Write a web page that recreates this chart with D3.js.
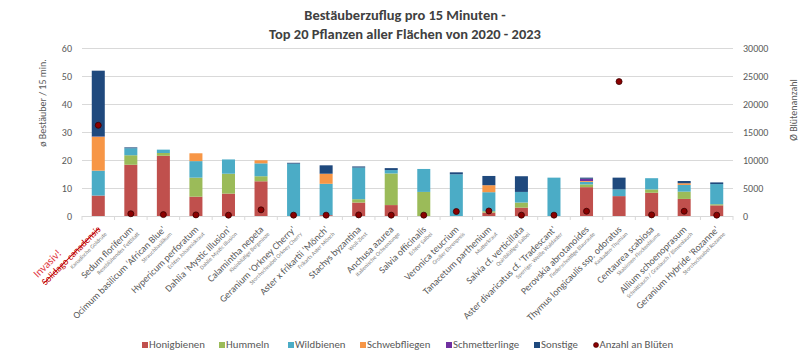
<!DOCTYPE html>
<html><head><meta charset="utf-8">
<script src="https://cdn.jsdelivr.net/npm/d3@7"></script>
<style>
body{margin:0;background:#fff;}
svg{display:block;font-family:Carlito,Lato,"Open Sans",sans-serif;}
</style></head>
<body><svg id="c" width="809" height="363"></svg>
<script>
const plants = ["Solidago canadensis","Sedum floriferum","Ocimum basilicum ‘African Blue’","Hypericum perforatum","Dahlia ‘Mystic Illusion’","Calamintha nepeta","Geranium ‘Orkney Cherry’","Aster x frikartii ‘Mönch’","Stachys byzantina","Anchusa azurea","Salvia officinalis","Veronica teucrium","Tanacetum parthenium","Salvia cf. verticillata","Aster divaricatus cf. ‘Tradescant’","Perovskia abrotanoides","Thymus longicaulis ssp. odoratus","Centaurea scabiosa","Allium schoenoprasum","Geranium Hybride ‘Rozanne’"];
const germanNames = ["Kanadische Goldrute","Reseblühendes Fettblatt","Strauchbasilikum","Echtes Johanniskraut","Dahlie Mystic Illusion","Kleinblütige Bergminze","Storchschnabel Orkney Cherry","Frikarts Aster Mönch","Woll-Ziest","Italienische Ochsenzunge","Echter Salbei","Großer Ehrenpreis","Mutterkraut","Quirlblütiger Salbei","Sperrige- Weiße Waldaster","Fiederschnittige Blauraute","Kaskaden-Thymian","Skabiosen-Flockenblume","Schnittlauch / Graslauch / Binsenlauch","Storchschnabel Rozanne"];
const honigbienen   = [7.3,18.3,21.5,6.9,8.0,12.4,0,0.3,4.8,3.9,0,0,1.2,3.0,0,10.3,7.1,8.3,6.1,3.8];
const hummeln       = [0,3.4,1.0,6.8,7.1,1.8,0,0,1.2,11.3,8.6,0,0.5,1.8,0,1.0,0,1.2,2.6,0.4];
const wildbienen    = [8.9,2.5,1.2,5.9,5.1,4.6,18.7,11.2,11.3,1.2,8.2,14.9,6.8,3.8,13.7,0.9,2.4,4.0,2.4,7.2];
const schwebfliegen = [12.1,0,0,2.8,0,1.1,0,3.6,0,0,0,0,2.5,0,0,0.3,0,0,0.6,0];
const schmetterlinge= [0.1,0,0,0,0,0,0,0,0,0,0,0,0,0,0,0.8,0,0,0,0];
const sonstige      = [23.5,0.3,0,0,0,0,0.3,3.0,0.4,0.7,0,0.7,3.3,5.6,0,0.4,4.2,0,0.8,0.6];
const blueten       = [16200,400,250,200,150,1100,150,150,200,150,150,800,900,150,150,850,24000,200,850,150];
const leftTicks = [0,10,20,30,40,50,60];
const rightTicks = [0,5000,10000,15000,20000,25000,30000];
const seriesNames = ["Honigbienen","Hummeln","Wildbienen","Schwebfliegen","Schmetterlinge","Sonstige"];
const seriesColors = ["#c0504d","#9bbb59","#4bacc6","#f79646","#7030a0","#1f497d"];

const seriesData = [honigbienen,hummeln,wildbienen,schwebfliegen,schmetterlinge,sonstige];
const rows = plants.map((p,i)=>{const r={i}; seriesNames.forEach((s,k)=>r[s]=seriesData[k][i]); return r;});
const stack = d3.stack().keys(seriesNames)(rows);

const svg = d3.select("#c");
const x = d3.scaleBand().domain(d3.range(plants.length)).range([82,733]).paddingInner(0.6).paddingOuter(0.3);
const y = d3.scaleLinear().domain([0,60]).range([216,48]);
const y2 = d3.scaleLinear().domain([0,30000]).range([216,48]);

// fit a text element's font-size so its width equals target
function fit(sel, target){
  const n = sel.node(); const fs = parseFloat(sel.attr("font-size"));
  const w = n.getComputedTextLength(); const nf = fs*target/w;
  sel.attr("font-size", nf); return nf;
}

// title
const t1 = svg.append("text").attr("x",405).attr("y",20).attr("text-anchor","middle").attr("font-size",13.5).attr("font-weight","bold").attr("fill","#404040").text("Bestäuberzuflug pro 15 Minuten -");
const t2 = svg.append("text").attr("x",405).attr("y",39).attr("text-anchor","middle").attr("font-size",13.5).attr("font-weight","bold").attr("fill","#404040").text("Top 20 Pflanzen aller Flächen von 2020 - 2023");
const tfs = fit(t2, 272); t1.attr("font-size", tfs);

// grid
svg.append("g").selectAll("line").data(leftTicks).join("line")
  .attr("x1",82).attr("x2",733).attr("y1",d=>y(d)+0.5).attr("y2",d=>y(d)+0.5)
  .attr("stroke","#d9d9d9").attr("stroke-width",1);

// axes
const ga = svg.append("g").attr("transform","translate(75,0)").call(d3.axisLeft(y).tickValues(leftTicks).tickSize(0).tickPadding(3));
ga.select(".domain").remove();
ga.selectAll("text").attr("fill","#595959").attr("font-size",10).attr("font-family","Carlito,Lato,sans-serif");
const gb = svg.append("g").attr("transform","translate(740,0)").call(d3.axisRight(y2).tickValues(rightTicks).tickFormat(d3.format("d")).tickSize(0).tickPadding(3));
gb.select(".domain").remove();
gb.selectAll("text").attr("fill","#595959").attr("font-size",10).attr("font-family","Carlito,Lato,sans-serif");

svg.append("text").attr("transform","translate(46,103) rotate(-90)").attr("text-anchor","middle").attr("font-size",10).attr("fill","#595959").text("ø Bestäuber / 15 min.");
svg.append("text").attr("transform","translate(797,110) rotate(-90)").attr("text-anchor","middle").attr("font-size",10).attr("fill","#595959").text("Ø Blütenanzahl");

// x ticks
svg.append("g").selectAll("line").data(d3.range(plants.length+1)).join("line")
  .attr("x1",d=>82+d*x.step()).attr("x2",d=>82+d*x.step()).attr("y1",216).attr("y2",220)
  .attr("stroke","#d9d9d9");

// bars
svg.append("g").selectAll("g").data(stack).join("g").attr("fill",(d,k)=>seriesColors[k])
  .selectAll("rect").data(d=>d).join("rect")
  .attr("x",d=>x(d.data.i)).attr("width",x.bandwidth())
  .attr("y",d=>y(d[1])).attr("height",d=>Math.max(0,y(d[0])-y(d[1])));

// dots
svg.append("g").selectAll("circle").data(blueten).join("circle")
  .attr("cx",(d,i)=>x(i)+x.bandwidth()/2).attr("cy",d=>y2(d)).attr("r",3)
  .attr("fill","#8b0000").attr("stroke","#3a0000").attr("stroke-width",0.8);

// x labels
const lab = svg.append("g").selectAll("g").data(plants).join("g")
  .attr("transform",(d,i)=>`translate(${x(i)+x.bandwidth()/2+3},${230}) rotate(-45)`);
const mains = lab.append("text").attr("class","main").attr("text-anchor","end").attr("font-size",10).attr("fill",(d,i)=>i===0?"#c00000":"#595959")
  .attr("text-decoration",(d,i)=>i===0?"line-through":null)
  .text(d=>d);
const mfs = fit(mains.filter((d,i)=>i===2), 127);
mains.attr("font-size", mfs);
lab.append("text").attr("text-anchor","end").attr("y",mfs*0.75).attr("x",1).attr("font-size",mfs*0.6).attr("fill","#808080")
  .text((d,i)=>germanNames[i]);
// Invasiv! annotation
const firstLen = mains.filter((d,i)=>i===0).node().getComputedTextLength();
lab.filter((d,i)=>i===0).append("text").attr("x",-firstLen).attr("y",-mfs*1.1).attr("font-size",mfs*1.15).attr("fill","#e0363e").text("Invasiv!");

// legend
const legendItems = seriesNames.map((s,k)=>({name:s,color:seriesColors[k],type:"rect"})).concat([{name:"Anzahl an Blüten",color:"#8b0000",type:"circle"}]);
const legendX = [142,219,288,360,446,534,594];
const lg = svg.append("g").selectAll("g").data(legendItems).join("g").attr("transform",(d,i)=>`translate(${legendX[i]},348)`);
lg.filter(d=>d.type==="rect").append("rect").attr("x",0).attr("y",-6).attr("width",6).attr("height",6).attr("fill",d=>d.color);
lg.filter(d=>d.type==="circle").append("circle").attr("cx",2).attr("cy",-3).attr("r",2.5).attr("fill",d=>d.color).attr("stroke","#3a0000").attr("stroke-width",0.6);
const lt = lg.append("text").attr("x",d=>d.type==="rect"?7:5.5).attr("y",0).attr("font-size",10).attr("fill","#595959").text(d=>d.name);
const lfs = fit(lt.filter((d,i)=>i===0), 56);
lt.attr("font-size", lfs);
</script></body></html>
